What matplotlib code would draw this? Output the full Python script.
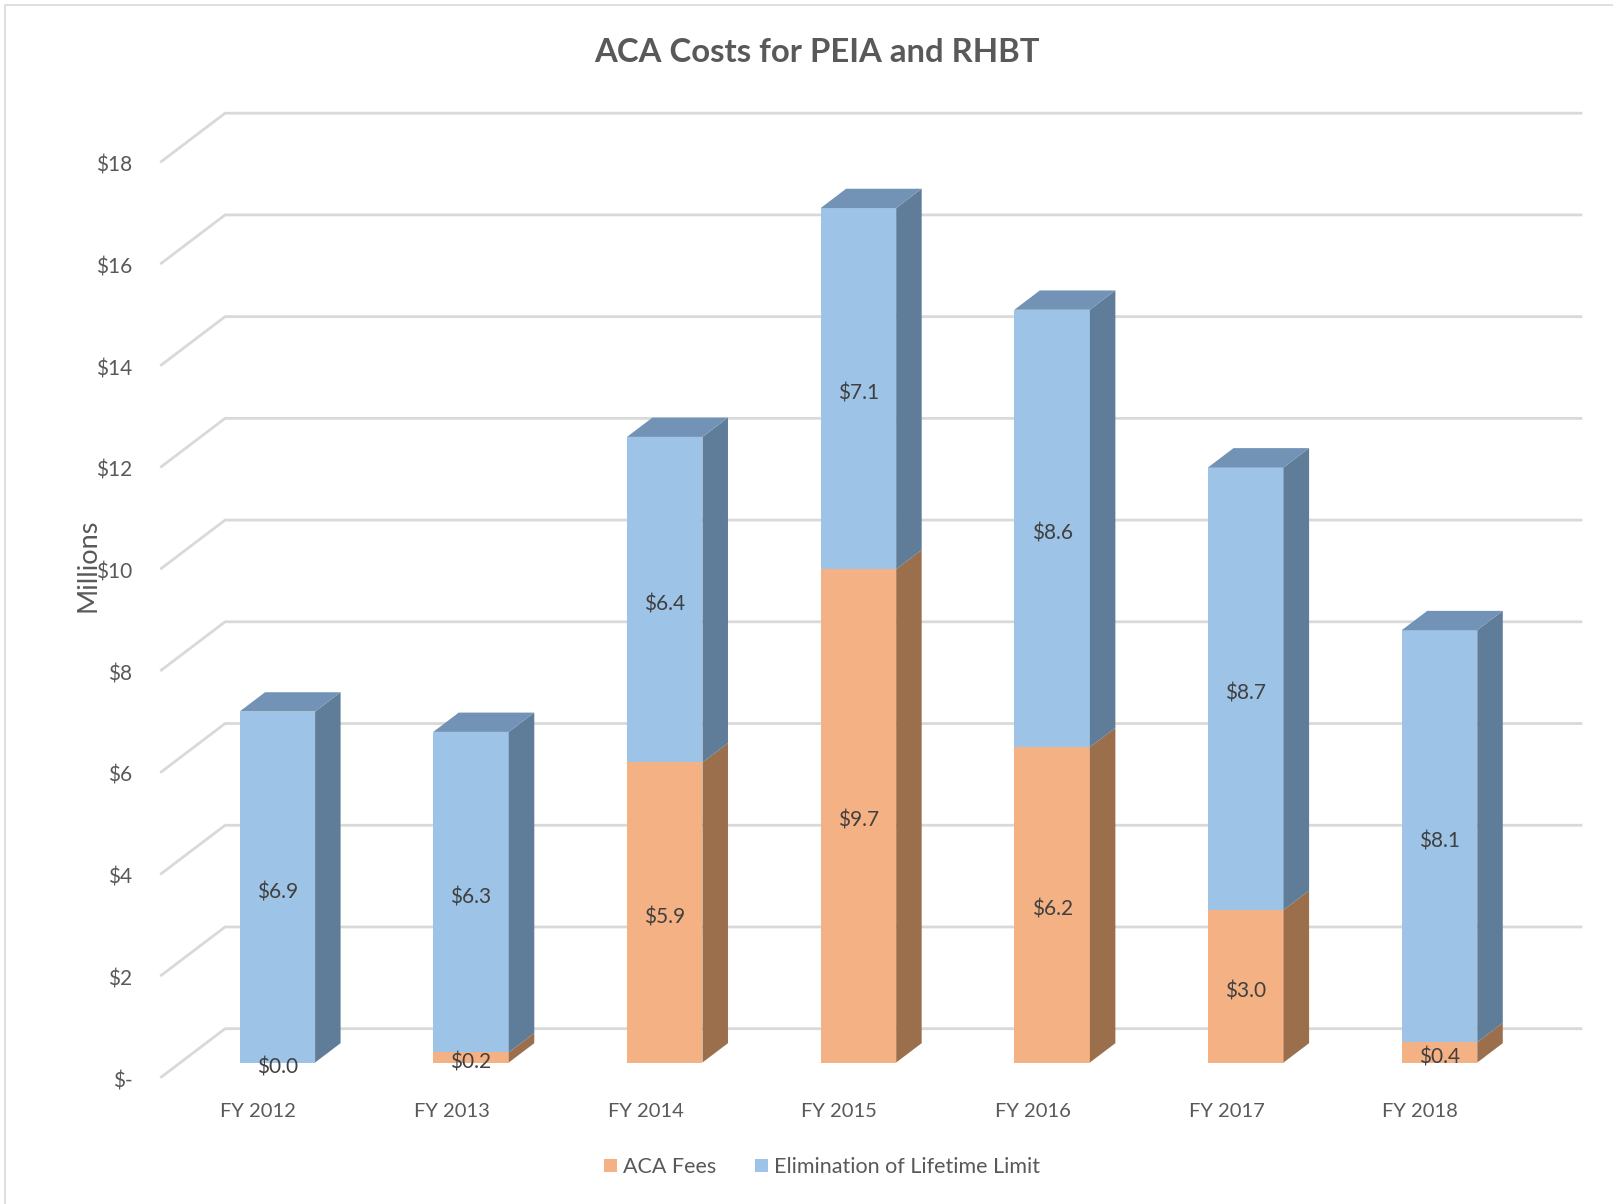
import matplotlib
matplotlib.use("Agg")
import matplotlib.pyplot as plt
from matplotlib.patches import Polygon, Patch
from matplotlib.lines import Line2D

# ---------------- data ----------------
categories = ["FY 2012", "FY 2013", "FY 2014", "FY 2015", "FY 2016", "FY 2017", "FY 2018"]
aca_fees = [0.0, 0.2, 5.9, 9.7, 6.2, 3.0, 0.4]
lifetime_limit = [6.9, 6.3, 6.4, 7.1, 8.6, 8.7, 8.1]
series_names = ["ACA Fees", "Elimination of Lifetime Limit"]
y_ticks = [0, 2, 4, 6, 8, 10, 12, 14, 16, 18]
y_tick_labels = ["$-", "$2", "$4", "$6", "$8", "$10", "$12", "$14", "$16", "$18"]
title = "ACA Costs for PEIA and RHBT"
y_label = "Millions"

# ---------------- style ----------------
FONT = ["Lato", "DejaVu Sans"]
TXT = "#595959"
GRID = "#d9d9d9"
front_cols = ["#f4b183", "#9dc3e6"]
side_cols = ["#9c6f4c", "#5f7c99"]
top_cols = ["#b07e58", "#7393b6"]

W, H = 1613, 1204
fig = plt.figure(figsize=(W / 100, H / 100), dpi=100)
ax = fig.add_axes([0, 0, 1, 1])

# pixel layout of the front (floor edge) plane
X0_PIX, X_STEP, Y0_PIX, Y_STEP = 258.2, 193.7, 1077.0, 50.86
ax.set_xlim(-X0_PIX / X_STEP, (W - X0_PIX) / X_STEP)
ax.set_ylim((Y0_PIX - H) / Y_STEP, Y0_PIX / Y_STEP)
ax.axis("off")

# oblique depth projection (full depth)
DX, DY = 0.329, 0.95
D_FRONT, D_BACK = 0.30, 0.70
BAR_W = 0.39
TEXT_SHIFT = -0.08  # Lato sits slightly high with va=center
n = len(categories)
x_left, x_right = -0.5, n - 0.5


def proj(x, v, d):
    return (x + d * DX, v + d * DY)


# walls / gridlines
for t, lab in zip(y_ticks, y_tick_labels):
    p0 = proj(x_left, t, 0)
    p1 = proj(x_left, t, 1)
    p2 = proj(x_right, t, 1)
    ax.add_line(Line2D([p0[0], p1[0], p2[0]], [p0[1], p1[1], p2[1]],
                       color=GRID, lw=2.0, zorder=1, solid_joinstyle="miter"))
    ax.text(x_left - 0.15, t + TEXT_SHIFT, lab, ha="right", va="center",
            fontsize=15, color=TXT, family=FONT)

# bars
bottoms = [0.0] * n
for s, vals in enumerate([aca_fees, lifetime_limit]):
    xs = [i + D_FRONT * DX for i in range(n)]
    bs = [b + D_FRONT * DY for b in bottoms]
    ax.bar(xs, vals, bottom=bs, width=BAR_W, color=front_cols[s], zorder=3, linewidth=0)
    for i, v in enumerate(vals):
        b = bottoms[i]
        xr = i + BAR_W / 2
        side = [proj(xr, b, D_FRONT), proj(xr, b + v, D_FRONT),
                proj(xr, b + v, D_BACK), proj(xr, b, D_BACK)]
        ax.add_patch(Polygon(side, closed=True, facecolor=side_cols[s], edgecolor="none", zorder=3))
        if s == 1:
            xl = i - BAR_W / 2
            top = [proj(xl, b + v, D_FRONT), proj(xr, b + v, D_FRONT),
                   proj(xr, b + v, D_BACK), proj(xl, b + v, D_BACK)]
            ax.add_patch(Polygon(top, closed=True, facecolor=top_cols[s], edgecolor="none", zorder=3))
        cx, cy = proj(i, b + v / 2, D_FRONT)
        ax.text(cx, cy + TEXT_SHIFT - 0.02, f"${v:.1f}", ha="center", va="center", fontsize=15,
                color="#404040", family=FONT, zorder=5)
    bottoms = [b + v for b, v in zip(bottoms, vals)]

# category labels
for i, c in enumerate(categories):
    ax.text(i, -0.67, c, ha="center", va="center", fontsize=14.5, color=TXT, family=FONT)

# axis title
ax.text(88 / X_STEP - X0_PIX / X_STEP, (Y0_PIX - 565) / Y_STEP, y_label, rotation=90,
        ha="center", va="center", fontsize=19.5, color=TXT, family=FONT)

# chart title
fig.text(817 / W, 1 - 52 / H, title, ha="center", va="center", fontsize=23.7,
         fontweight="bold", color=TXT, family=FONT)

# legend
handles = [Patch(facecolor=front_cols[0], edgecolor="none"),
           Patch(facecolor=front_cols[1], edgecolor="none")]
leg = fig.legend(handles, series_names, loc="center", bbox_to_anchor=(822 / W, 1 - 1167 / H),
                 ncol=2, frameon=False, handlelength=0.6, handleheight=0.6,
                 handletextpad=0.3, columnspacing=1.8,
                 prop={"family": FONT, "size": 15.5})
for t in leg.get_texts():
    t.set_color(TXT)

# chart border
fig.add_artist(Line2D([5 / W, 5 / W, 1], [0.0, 1 - 5 / H, 1 - 5 / H],
                      transform=fig.transFigure, color="#d9d9d9", lw=1.2))

fig.savefig("out.png", dpi=100)
